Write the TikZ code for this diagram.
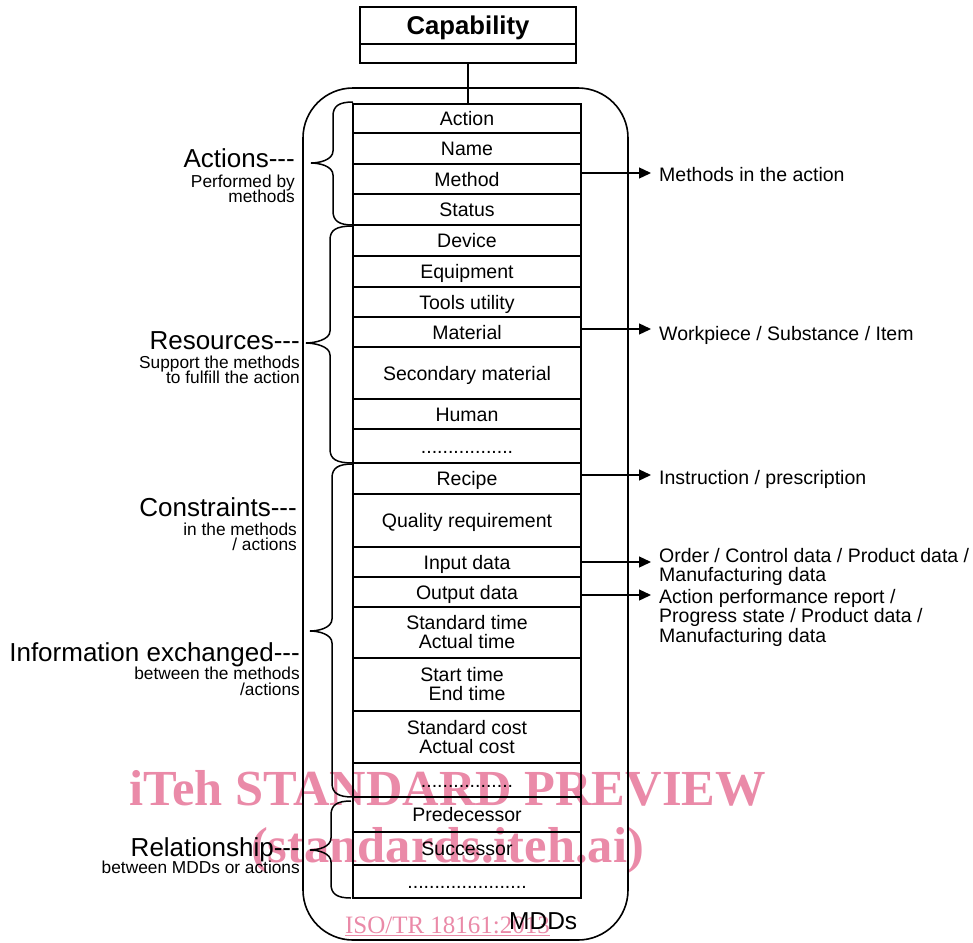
\documentclass[tikz,border=0pt]{standalone}
\usepackage{fontspec}
\setmainfont{Liberation Sans}
\newfontfamily\wmfont{Liberation Serif}
\usetikzlibrary{arrows.meta}
\definecolor{wmpink}{RGB}{234,138,168}
\newcommand\mybrace[6]{\draw[brc] (#1,#4) .. controls ({#2+6},#4) and (#2,{#4+4}) .. (#2,{#4+14}) -- (#2,{#5-12}) .. controls (#2,{#5-3}) and ({#3+8},#5) .. (#3,#5) .. controls ({#3+8},#5) and (#2,{#5+3}) .. (#2,{#5+12}) -- (#2,{#6-14}) .. controls (#2,{#6-4}) and ({#2+6},#6) .. (#1,#6);}
\newcommand\tdash{-{}-{}-}
\tikzset{
 rowbox/.style={draw, line width=1.5pt, minimum width=228pt, inner sep=0pt, font=\fontsize{19.5}{19}\selectfont},
 one/.style={text height=14pt, text depth=0pt},
 two/.style={align=center},
 big/.style={font=\fontsize{26}{26}\selectfont, inner sep=0pt, anchor=base east},
 small/.style={font=\fontsize{17.3}{17}\selectfont, inner sep=0pt, anchor=base east},
 rlab/.style={font=\fontsize{19.5}{19}\selectfont, inner sep=0pt, anchor=base west},
 arr/.style={line width=1.3pt, -{Triangle[length=12pt,width=11pt]}},
 brc/.style={line width=1.5pt},
 wm/.style={text=wmpink, inner sep=0pt, anchor=base},
}
\begin{document}
\begin{tikzpicture}[x=1pt,y=-1pt]
\useasboundingbox (0,0) rectangle (973,942);
% watermark (behind)
\node[wm, font=\wmfont\bfseries\fontsize{50.5}{50}\selectfont] (wm1) at (447.5,805) {iTeh STANDARD PREVIEW};
\node[wm, font=\wmfont\bfseries\fontsize{50.5}{50}\selectfont] (wm2) at (447.5,862) {(standards.iteh.ai)};
\node[wm, font=\wmfont\fontsize{25}{25}\selectfont] (wm3) at (447.5,933) {\underline{ISO/TR 18161:2013}};
% capability
\node[draw, line width=1.5pt, minimum width=216pt, minimum height=37pt, inner sep=0pt, font=\bfseries\fontsize{25.7}{26}\selectfont, text height=18.4pt, text depth=0pt] (cap) at (468,25.5) {Capability};
\node[draw, line width=1.5pt, minimum width=216pt, minimum height=19pt, inner sep=0pt] (capb) at (468,53.5) {};
% outer box
\node[draw, rounded corners=50pt, line width=1.6pt, minimum width=325pt, minimum height=852pt, inner sep=0pt] (mdd) at (465.5,514) {};
\node[font=\fontsize{24.5}{25}\selectfont, inner sep=0pt, anchor=base west] (mddlbl) at (509,929) {MDDs};
% rows
\node[rowbox, one, minimum height=29pt] (action) at (467,118.5) {Action};
\node[rowbox, one, minimum height=31pt] (name) at (467,148.5) {Name};
\node[rowbox, one, minimum height=30pt] (method) at (467,179) {Method};
\node[rowbox, one, minimum height=31pt] (status) at (467,209.5) {Status};
\node[rowbox, one, minimum height=31pt] (device) at (467,240.5) {Device};
\node[rowbox, one, minimum height=31pt] (equip) at (467,271.5) {Equipment};
\node[rowbox, one, minimum height=30pt] (tools) at (467,302) {Tools utility};
\node[rowbox, one, minimum height=30pt] (material) at (467,332) {Material};
\node[rowbox, one, minimum height=52pt] (secmat) at (467,373) {Secondary material};
\node[rowbox, one, minimum height=30pt] (human) at (467,414) {Human};
\node[rowbox, one, minimum height=34pt] (dotsa) at (467,446) {.................};
\node[rowbox, one, minimum height=31pt] (recipe) at (467,478.5) {Recipe};
\node[rowbox, one, minimum height=53pt] (quality) at (467,520.5) {Quality requirement};
\node[rowbox, one, minimum height=30pt] (input) at (467,562) {Input data};
\node[rowbox, one, minimum height=30pt] (output) at (467,592) {Output data};
\node[rowbox, two, minimum height=51pt] (stdtime) at (467,632.5) {Standard time\\Actual time};
\node[rowbox, two, minimum height=53pt] (starttime) at (467,684.5) {Start time\rule{10pt}{0pt}\\End time};
\node[rowbox, two, minimum height=52pt] (stdcost) at (467,737) {Standard cost\\Actual cost};
\node[rowbox, one, minimum height=34pt] (dotsb) at (467,780) {.................};
\node[rowbox, one, minimum height=35pt] (pred) at (467,814.5) {Predecessor};
\node[rowbox, one, minimum height=33pt] (succ) at (467,848.5) {Successor};
\node[rowbox, one, minimum height=33pt] (dotsc) at (467,881.5) {......................};
\draw[line width=1.5pt] (capb.south) -- (capb.south |- action.north);
% braces
\mybrace{353}{333}{311}{102}{163}{225}
\mybrace{353}{330}{306}{226}{343}{463}
\mybrace{353}{332}{310}{464}{631}{797}
\mybrace{351}{331}{310}{801}{850}{898}
% left labels
\node[big] (lact) at (295,167) {Actions\tdash};
\node[small] (lact1) at (295,187) {Performed by};
\node[small] (lact2) at (295,202) {methods};
\node[big] (lres) at (300,349) {Resources\tdash};
\node[small] (lres1) at (300,368) {Support the methods};
\node[small] (lres2) at (300,383) {to fulfill the action};
\node[big] (lcon) at (297,516) {Constraints\tdash};
\node[small] (lcon1) at (297,535) {in the methods};
\node[small] (lcon2) at (297,550) {/ actions};
\node[big] (linf) at (300,661) {Information exchanged\tdash};
\node[small] (linf1) at (300,679) {between the methods};
\node[small] (linf2) at (300,695) {/actions};
\node[big] (lrel) at (300,856) {Relationship\tdash};
\node[small] (lrel1) at (300,873) {between MDDs or actions};
% right arrows and labels
\coordinate (e1) at (651,173);
\coordinate (e2) at (651,329);
\coordinate (e3) at (651,475);
\coordinate (e4) at (651,562);
\coordinate (e5) at (651,595);
\draw[arr] (method.east |- e1) -- (e1);
\draw[arr] (material.east |- e2) -- (e2);
\draw[arr] (recipe.east |- e3) -- (e3);
\draw[arr] (input.east |- e4) -- (e4);
\draw[arr] (output.east |- e5) -- (e5);
\node[rlab] (r1) at (659,181) {Methods in the action};
\node[rlab] (r2) at (659,340) {Workpiece / Substance / Item};
\node[rlab] (r3) at (659,484) {Instruction / prescription};
\node[rlab] (r4a) at (659,562) {Order / Control data / Product data /};
\node[rlab] (r4b) at (659,581) {Manufacturing data};
\node[rlab] (r5a) at (659,603) {Action performance report /};
\node[rlab] (r5b) at (659,622.5) {Progress state / Product data /};
\node[rlab] (r5c) at (659,642) {Manufacturing data};
\end{tikzpicture}
\end{document}
